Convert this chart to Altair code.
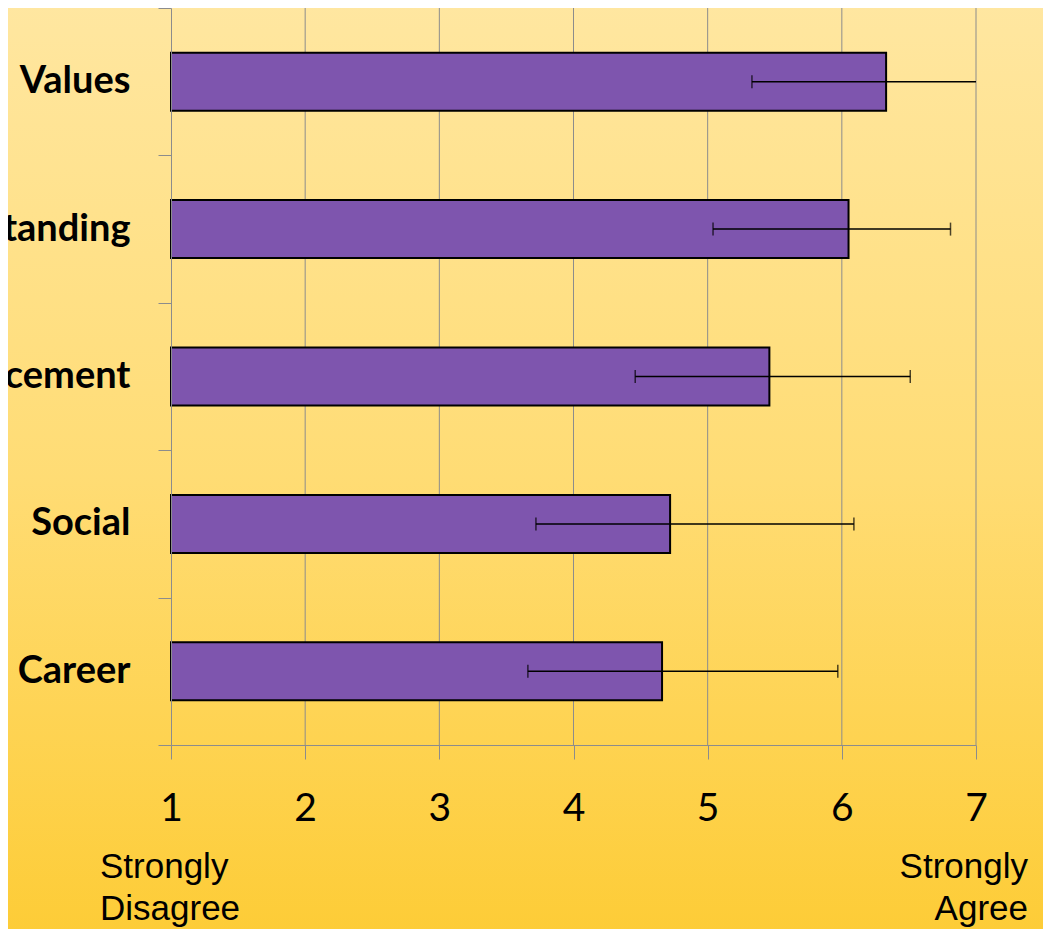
import altair as alt
import pandas as pd

# ---- data ----
categories = ["Values", "Understanding", "Enhancement", "Social", "Career"]
means = [6.33, 6.05, 5.46, 4.72, 4.66]
err_low = [5.33, 5.04, 4.46, 3.72, 3.66]
err_high = [7.0, 6.81, 6.51, 6.09, 5.97]
x_ticks = [1, 2, 3, 4, 5, 6, 7]
left_caption = ["Strongly", "Disagree"]
right_caption = ["Strongly", "Agree"]

df = pd.DataFrame({"cat": categories, "mean": means, "lo": err_low, "hi": err_high})
caps = pd.DataFrame({"cat": categories + categories, "v": err_low + err_high})
caps = caps[caps["v"] < 7]
grid = pd.DataFrame({"v": x_ticks[1:]})
one = pd.DataFrame({"a": [0]})

GRAY = "#8C8C8C"
PURPLE = "#7E55AE"

xscale = alt.Scale(domain=[1, 7], nice=False, zero=False)
yscale = alt.Scale(domain=categories, paddingInner=0, paddingOuter=0)

xaxis = alt.Axis(values=x_ticks, grid=False, domainColor=GRAY, tickColor=GRAY,
                 tickSize=14, labelPadding=30, labelFont="Lato", labelFontSize=39,
                 labelColor="black", labelFlush=False, labelOverlap=False, zindex=1)
yaxis = alt.Axis(grid=False, domainColor=GRAY, tickColor=GRAY, tickSize=13,
                 tickBand="extent", labelPadding=28, labelFont="Lato",
                 labelFontWeight="bold", labelFontSize=38, labelColor="black",
                 labelLimit=500, zindex=1)


def X(field):
    return alt.X(field, type="quantitative", scale=xscale, axis=xaxis, title=None)


def Y():
    return alt.Y("cat:N", sort=categories, scale=yscale, axis=yaxis, title=None)


gradient = alt.LinearGradient(
    gradient="linear",
    stops=[alt.GradientStop(color="#FFE7A2", offset=0),
           alt.GradientStop(color="#FFDC74", offset=0.5),
           alt.GradientStop(color="#FDCB32", offset=1)],
    x1=0, x2=0, y1=0, y2=1)

background = alt.Chart(one).mark_rect(clip=False, color=gradient).encode(
    x=alt.value(-200), x2=alt.value(1100), y=alt.value(-20), y2=alt.value(960)
)

gridlines = alt.Chart(grid).mark_rule(color=GRAY, strokeWidth=1).encode(x=X("v"))

bars = alt.Chart(df).mark_bar(color=PURPLE, stroke="black", strokeWidth=2, size=58).encode(
    x=X("mean"), x2=alt.datum(1), y=Y()
)

err = alt.Chart(df).mark_rule(color="black", strokeWidth=1.5).encode(
    x=X("lo"), x2="hi", y=Y()
)

cap_marks = alt.Chart(caps).mark_tick(color="black", size=13, thickness=1.5).encode(
    x=X("v"), y=Y()
)

left_txt = alt.Chart(one).mark_text(
    text=left_caption, font="Liberation Sans", fontSize=35, lineHeight=42,
    align="left", baseline="alphabetic", dx=-71, color="black"
).encode(x=alt.X(datum=1, type="quantitative", scale=xscale, axis=xaxis, title=None),
         y=alt.value(870))

right_txt = alt.Chart(one).mark_text(
    text=right_caption, font="Liberation Sans", fontSize=35, lineHeight=42,
    align="right", baseline="alphabetic", dx=52, color="black"
).encode(x=alt.X(datum=7, type="quantitative", scale=xscale, axis=xaxis, title=None),
         y=alt.value(870))

chart = alt.layer(background, gridlines, bars, err, cap_marks, left_txt, right_txt).properties(
    width=805, height=737,
    autosize=alt.AutoSizeParams(type="none"),
    padding={"left": 163, "top": 0, "right": 67, "bottom": 184},
).configure(background="#FFDC74").configure_view(stroke=None)

chart.save("out.html", embed_options={"renderer": "svg", "actions": False})
